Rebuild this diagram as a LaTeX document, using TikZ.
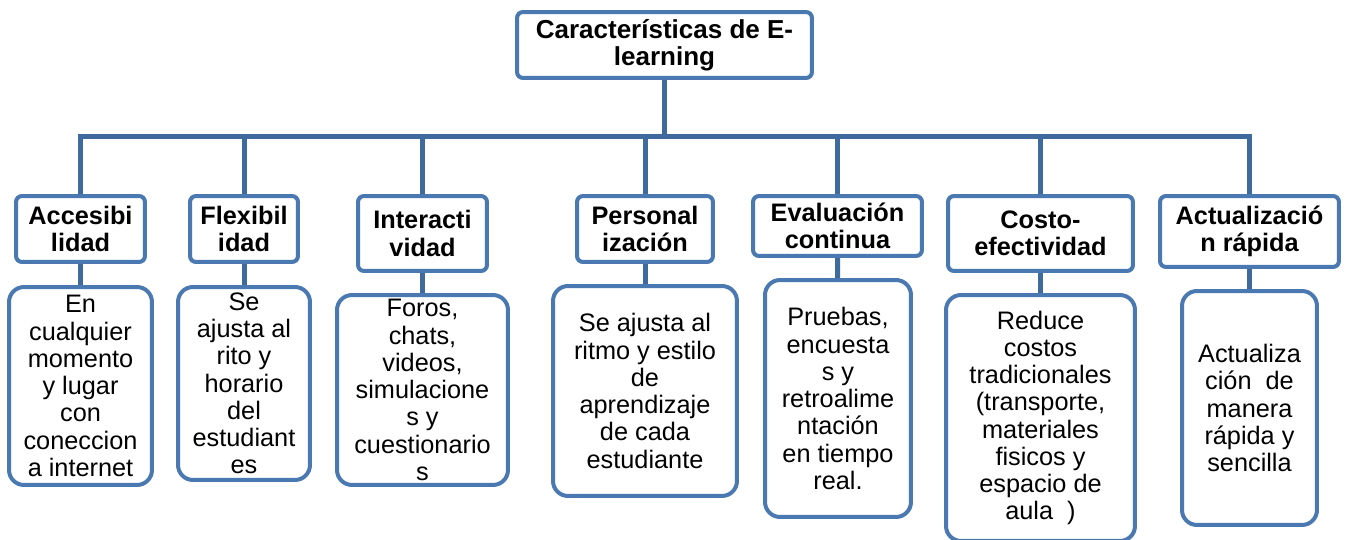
\documentclass[tikz,border=0pt]{standalone}
\usepackage{fontspec}
\setmainfont{Liberation Sans}
\usepackage{xcolor}
\usepackage{tikz}
\usetikzlibrary{positioning, calc}
\definecolor{boxblue}{RGB}{74,120,176}
\definecolor{lineblue}{RGB}{63,106,158}
\tikzstyle{root} = [rectangle, rounded corners=0.12cm, draw=boxblue, line width=0.08cm, fill=white, inner sep=0pt, align=center, font=\fontsize{14.8}{15.5}\selectfont\bfseries]
\tikzstyle{head} = [rectangle, rounded corners=0.12cm, draw=boxblue, line width=0.08cm, fill=white, inner sep=0pt, align=center, font=\fontsize{14.4}{15.5}\selectfont\bfseries]
\tikzstyle{detail} = [rectangle, rounded corners=0.3cm, draw=boxblue, line width=0.08cm, fill=white, inner sep=0pt, align=center, font=\fontsize{14.4}{15.5}\selectfont]
\tikzstyle{conn} = [draw=lineblue, line width=0.1cm]

\begin{document}
\begin{tikzpicture}[x=0.02cm, y=-0.02cm]
\useasboundingbox (0,0) rectangle (1347,540);

% Root
\node (root) [root, minimum width=5.9cm, minimum height=1.32cm] at (664.5,45) {Características de E-\\learning};

% Headers
\node (acc) [head, minimum width=2.58cm, minimum height=1.32cm] at (80.5,229) {Accesibi\\lidad};
\node (flex) [head, minimum width=2.16cm, minimum height=1.32cm] at (244,229) {Flexibil\\idad};
\node (inter) [head, minimum width=2.58cm, minimum height=1.5cm] at (422.5,233.5) {Interacti\\vidad};
\node (pers) [head, minimum width=2.72cm, minimum height=1.32cm] at (645,229) {Personal\\ización};
\node (eval) [head, minimum width=3.38cm, minimum height=1.2cm] at (837.5,226) {Evaluación\\continua};
\node (costo) [head, minimum width=3.7cm, minimum height=1.5cm] at (1040.5,233.5) {Costo-\\efectividad};
\node (act) [head, minimum width=3.58cm, minimum height=1.42cm] at (1249.5,231.5) {Actualizació\\n rápida};

% Details
\node (accD) [detail, minimum width=2.86cm, minimum height=3.96cm] at (80.5,386) {En\\cualquier\\momento\\y lugar\\con\\coneccion\\a internet};
\node (flexD) [detail, minimum width=2.64cm, minimum height=3.86cm] at (244,383.5) {Se\\ajusta al\\rito y\\horario\\del\\estudiant\\es};
\node (interD) [detail, minimum width=3.42cm, minimum height=3.8cm] at (422.5,390) {Foros,\\chats,\\videos,\\simulacione\\s y\\cuestionario\\s};
\node (persD) [detail, minimum width=3.68cm, minimum height=4.2cm] at (645,391) {Se ajusta al\\ritmo y estilo\\de\\aprendizaje\\de cada\\estudiante};
\node (evalD) [detail, minimum width=2.92cm, minimum height=4.74cm] at (838,398.5) {Pruebas,\\encuesta\\s y\\retroalime\\ntación\\en tiempo\\real.};
\node (costoD) [detail, minimum width=3.78cm, minimum height=4.92cm] at (1040.5,418) {Reduce\\costos\\tradicionales\\(transporte,\\materiales\\fisicos y\\espacio de\\aula~~)};
\node (actD) [detail, minimum width=2.7cm, minimum height=4.68cm] at (1249.5,408) {Actualiza\\ción~~de\\manera\\rápida y\\sencilla};

% Connectors
\coordinate (bus) at (664.5,137);
\draw [conn] (root.south) -- (bus);
\draw [conn] (acc.north) |- (bus) -| (act.north);
\draw [conn] (flex.north) -- (flex.north |- bus);
\draw [conn] (inter.north) -- (inter.north |- bus);
\draw [conn] (pers.north) -- (pers.north |- bus);
\draw [conn] (eval.north) -- (eval.north |- bus);
\draw [conn] (costo.north) -- (costo.north |- bus);

\draw [conn] (acc) -- (accD);
\draw [conn] (flex) -- (flexD);
\draw [conn] (inter) -- (interD);
\draw [conn] (pers) -- (persD);
\draw [conn] (eval) -- (evalD);
\draw [conn] (costo) -- (costoD);
\draw [conn] (act) -- (actD);

\end{tikzpicture}
\end{document}
